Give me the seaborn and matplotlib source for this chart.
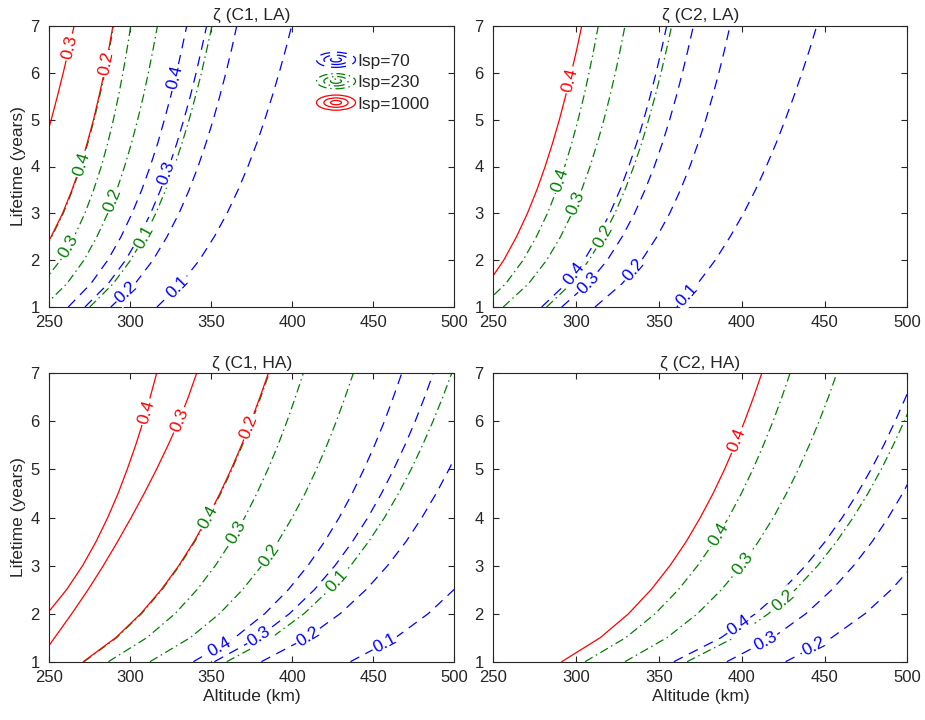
import numpy as np
import pandas as pd
import matplotlib
matplotlib.use("Agg")
import matplotlib.pyplot as plt
import seaborn as sns
from matplotlib.legend_handler import HandlerBase
from matplotlib.lines import Line2D
from matplotlib.patches import Ellipse

# lifetime grid (years); each contour = altitude (km) where it crosses these lifetimes
LIFE = [1, 1.5, 2, 2.5, 3, 3.5, 4, 4.5, 5, 5.5, 6, 6.5, 7]

# zeta (C1, LA)
c1_la_70 = {
    0.4: [261.7, 275.7, 286.1, 294.3, 301.1, 307.1, 312.3, 317.0, 321.1, 325.0, 328.6, 331.8, 334.9],
    0.3: [272.0, 286.4, 297.1, 305.5, 312.6, 318.7, 324.0, 328.8, 333.1, 337.1, 340.7, 344.0, 347.2],
    0.2: [288.0, 303.0, 314.0, 322.7, 330.1, 336.4, 341.9, 346.8, 351.3, 355.3, 359.1, 362.6, 365.8],
    0.1: [316.5, 331.3, 342.7, 351.9, 359.8, 366.6, 372.7, 378.2, 383.1, 387.7, 392.0, 396.0, 399.7],
}
c1_la_230 = {
    0.4: [213.9, 230.9, 242.6, 251.5, 258.6, 264.4, 269.5, 273.8, 277.7, 281.1, 284.3, 287.1, 289.7],
    0.3: [228.8, 245.6, 256.9, 265.3, 272.0, 277.4, 282.1, 286.1, 289.6, 292.7, 295.5, 298.0, 300.3],
    0.2: [246.2, 260.9, 271.4, 279.4, 286.1, 291.7, 296.5, 300.8, 304.6, 308.1, 311.2, 314.1, 316.8],
    0.1: [275.0, 289.5, 300.2, 308.7, 315.8, 321.9, 327.2, 332.0, 336.4, 340.3, 344.0, 347.3, 350.5],
}
c1_la_1000 = {
    0.3: [187.5, 203.5, 214.9, 223.8, 231.0, 237.1, 242.4, 247.0, 251.2, 255.0, 258.6, 262.0, 265.3],
    0.2: [213.5, 230.5, 242.2, 251.1, 258.2, 264.0, 269.1, 273.4, 277.3, 280.7, 283.9, 286.7, 289.3],
}

# zeta (C2, LA)
c2_la_70 = {
    0.4: [279.2, 294.0, 304.8, 313.3, 320.4, 326.5, 331.8, 336.6, 340.8, 344.7, 348.3, 351.6, 354.7],
    0.3: [291.3, 307.2, 318.8, 327.8, 335.3, 341.6, 347.2, 352.1, 356.5, 360.5, 364.2, 367.6, 370.8],
    0.2: [311.4, 327.8, 339.6, 348.8, 356.5, 363.0, 368.7, 373.7, 378.3, 382.4, 386.2, 389.7, 392.9],
    0.1: [360.8, 373.4, 384.0, 393.0, 401.1, 408.3, 414.8, 420.8, 426.3, 431.5, 436.4, 441.0, 445.3],
}
c2_la_230 = {
    0.4: [242.8, 257.5, 268.0, 276.0, 282.7, 288.3, 293.1, 297.4, 301.2, 304.7, 307.8, 310.7, 313.4],
    0.3: [256.0, 271.3, 282.2, 290.6, 297.5, 303.3, 308.4, 312.8, 316.8, 320.4, 323.7, 326.7, 329.5],
    0.2: [282.2, 297.0, 307.8, 316.3, 323.4, 329.5, 334.8, 339.6, 343.8, 347.7, 351.3, 354.6, 357.7],
}
c2_la_1000 = {
    0.4: [234.0, 246.7, 256.3, 264.0, 270.6, 276.3, 281.3, 285.8, 289.9, 293.6, 297.1, 300.4, 303.4],
}

# zeta (C1, HA)
c1_ha_70 = {
    0.4: [339.0, 364.6, 383.1, 397.7, 409.8, 420.1, 429.1, 437.1, 444.3, 450.9, 457.0, 462.5, 467.7],
    0.3: [352.0, 378.9, 398.4, 413.8, 426.5, 437.3, 446.8, 455.2, 462.7, 469.6, 476.0, 481.8, 487.2],
    0.2: [381.0, 409.2, 429.7, 445.7, 459.0, 470.4, 480.2, 489.0, 496.9, 504.1, 510.7, 516.8, 522.5],
    0.1: [436.0, 463.9, 484.1, 500.0, 513.2, 524.4, 534.2, 542.9, 550.7, 557.8, 564.4, 570.4, 576.0],
}
c1_ha_230 = {
    0.4: [271.5, 291.6, 307.0, 319.7, 330.5, 339.9, 348.3, 355.9, 362.8, 369.2, 375.1, 380.6, 385.8],
    0.3: [286.5, 310.3, 327.7, 341.3, 352.6, 362.3, 370.7, 378.2, 385.0, 391.2, 396.8, 402.0, 406.9],
    0.2: [312.2, 337.1, 355.2, 369.4, 381.3, 391.3, 400.1, 408.0, 415.0, 421.4, 427.3, 432.7, 437.8],
    0.1: [359.6, 387.3, 407.4, 423.1, 436.2, 447.3, 457.1, 465.7, 473.5, 480.5, 487.0, 493.0, 498.6],
}
c1_ha_1000 = {
    0.4: [211.3, 233.2, 248.7, 260.7, 270.6, 278.9, 286.1, 292.5, 298.1, 303.3, 308.0, 312.3, 316.3],
    0.3: [242.7, 253.3, 263.9, 274.0, 283.4, 292.2, 300.6, 308.6, 316.2, 323.3, 330.0, 335.8, 341.0],
    0.2: [271.0, 291.1, 306.5, 319.2, 330.0, 339.4, 347.8, 355.4, 362.3, 368.7, 374.6, 380.1, 385.3],
}

# zeta (C2, HA)
c2_ha_70 = {
    0.4: [359.0, 387.5, 408.4, 424.9, 438.6, 450.4, 460.7, 469.8, 478.1, 485.7, 492.6, 499.0, 505.0],
    0.3: [391.0, 418.7, 438.8, 454.5, 467.6, 478.8, 488.5, 497.1, 504.9, 512.0, 518.4, 524.4, 530.0],
    0.2: [426.5, 454.3, 474.5, 490.3, 503.4, 514.6, 524.3, 533.0, 540.8, 547.9, 554.4, 560.4, 566.0],
}
c2_ha_230 = {
    0.4: [305.4, 330.0, 347.8, 361.8, 373.4, 383.4, 392.1, 399.8, 406.7, 413.0, 418.9, 424.2, 429.2],
    0.3: [329.5, 354.9, 373.3, 387.8, 399.9, 410.1, 419.1, 427.0, 434.2, 440.7, 446.7, 452.3, 457.4],
    0.2: [367.0, 395.5, 416.2, 432.4, 445.9, 457.3, 467.3, 476.2, 484.2, 491.4, 498.1, 504.3, 510.0],
}
c2_ha_1000 = {
    0.4: [291.3, 314.6, 331.7, 345.3, 356.7, 366.5, 375.0, 382.7, 389.6, 395.9, 401.7, 407.1, 412.1],
}

ISP = [70, 230, 1000]
COLORS = {70: "#0000ff", 230: "#008000", 1000: "#ff0000"}
STYLES = {70: (0, (8, 5.5)), 230: (0, (7, 3, 1.2, 3)), 1000: "-"}

# lifetime at which each inline contour label sits (isp -> level -> years)
lab_c1_la = {70: {0.4: 5.9, 0.3: 3.86, 0.2: 1.32, 0.1: 1.43},
             230: {0.4: 4.05, 0.3: 2.3, 0.2: 3.28, 0.1: 2.5},
             1000: {0.3: 6.55, 0.2: 6.2}}
lab_c2_la = {70: {0.4: 1.72, 0.3: 1.51, 0.2: 1.79, 0.1: 1.25},
             230: {0.4: 3.71, 0.3: 3.21, 0.2: 2.5},
             1000: {0.4: 5.85}}
lab_c1_ha = {70: {0.4: 1.31, 0.3: 1.52, 0.2: 1.52, 0.1: 1.38},
             230: {0.4: 4.0, 0.3: 3.7, 0.2: 3.22, 0.1: 2.67},
             1000: {0.4: 6.2, 0.3: 6.03, 0.2: 5.89}}
lab_c2_ha = {70: {0.4: 1.76, 0.3: 1.42, 0.2: 1.31},
             230: {0.4: 3.64, 0.3: 3.05, 0.2: 2.28},
             1000: {0.4: 5.61}}

sns.set_theme(style="ticks")
plt.rcParams["font.family"] = ["Liberation Sans", "DejaVu Sans"]
plt.rcParams["axes.edgecolor"] = "#262626"
plt.rcParams["xtick.color"] = "#262626"
plt.rcParams["ytick.color"] = "#262626"


class ContourIcon(HandlerBase):
    def __init__(self, color, ls):
        super().__init__()
        self.color = color
        self.ls = ls

    def create_artists(self, legend, orig_handle, xdescent, ydescent, width,
                       height, fontsize, trans):
        cx = 0.5 * width - xdescent
        cy = 0.5 * height - ydescent
        arts = []
        for k in (1.0, 0.62, 0.28):
            e = Ellipse((cx, cy), width * k, height * 1.05 * k, fill=False,
                        edgecolor=self.color, linestyle=self.ls, lw=0.9)
            e.set_transform(trans)
            arts.append(e)
        return arts


def put_label(ax, alts, level, life_at, color):
    a = np.interp(life_at, LIFE, alts)
    d = 0.12
    p1 = ax.transData.transform((np.interp(life_at - d, LIFE, alts), life_at - d))
    p2 = ax.transData.transform((np.interp(life_at + d, LIFE, alts), life_at + d))
    ang = np.degrees(np.arctan2(p2[1] - p1[1], p2[0] - p1[0]))
    ax.text(a, life_at, f"{level:g}", rotation=ang, rotation_mode="anchor",
            ha="center", va="center", color=color, fontsize=12.5, zorder=5,
            bbox=dict(boxstyle="square,pad=0.1", fc="white", ec="none"))


fig = plt.figure(figsize=(9.25, 7.2), dpi=100)

panels = [
    ("ζ (C1, LA)", [0.0533, 0.5736, 0.4375, 0.3903],
     {70: c1_la_70, 230: c1_la_230, 1000: c1_la_1000}, lab_c1_la, True, False),
    ("ζ (C2, LA)", [0.5333, 0.5736, 0.4476, 0.3903],
     {70: c2_la_70, 230: c2_la_230, 1000: c2_la_1000}, lab_c2_la, False, False),
    ("ζ (C1, HA)", [0.0533, 0.0810, 0.4375, 0.4005],
     {70: c1_ha_70, 230: c1_ha_230, 1000: c1_ha_1000}, lab_c1_ha, True, True),
    ("ζ (C2, HA)", [0.5333, 0.0810, 0.4476, 0.4005],
     {70: c2_ha_70, 230: c2_ha_230, 1000: c2_ha_1000}, lab_c2_ha, False, True),
]

axes = []
for title, rect, curves, labs, ylab, xlab in panels:
    ax = fig.add_axes(rect)
    for isp in ISP:
        for level, alts in curves[isp].items():
            df = pd.DataFrame({"alt": alts, "life": LIFE})
            sns.lineplot(data=df, x="alt", y="life", ax=ax, color=COLORS[isp],
                         linestyle=STYLES[isp], lw=0.9, sort=False,
                         estimator=None, zorder=2)
    ax.set_xlim(250, 500)
    ax.set_ylim(1, 7)
    ax.set_xticks([250, 300, 350, 400, 450, 500])
    ax.set_yticks([1, 2, 3, 4, 5, 6, 7])
    ax.tick_params(direction="in", length=4, width=0.8, top=True, right=True,
                   labelsize=12)
    ax.tick_params(axis="x", pad=6)
    ax.tick_params(axis="y", pad=7)
    for s in ax.spines.values():
        s.set_linewidth(0.8)
        s.set_visible(True)
    ax.set_title(title, fontsize=12.5, pad=4)
    ax.set_xlabel("Altitude (km)" if xlab else "", fontsize=12.5, labelpad=3)
    ax.set_ylabel("Lifetime (years)" if ylab else "", fontsize=12.5, labelpad=3)
    for isp in ISP:
        for level, life_at in labs[isp].items():
            put_label(ax, curves[isp][level], level, life_at, COLORS[isp])
    axes.append(ax)

handles = [Line2D([], [], color=COLORS[i]) for i in ISP]
leg = axes[0].legend(handles, [f"Isp={i}" for i in ISP], loc="upper left",
                     bbox_to_anchor=(0.643, 0.93), frameon=False, fontsize=12.5,
                     handlelength=2.25, handleheight=0.9, handletextpad=0.1,
                     labelspacing=0.3, borderaxespad=0,
                     handler_map={h: ContourIcon(COLORS[i], STYLES[i])
                                  for h, i in zip(handles, ISP)})
leg.set_zorder(6)

fig.savefig("out.png", dpi=100)
